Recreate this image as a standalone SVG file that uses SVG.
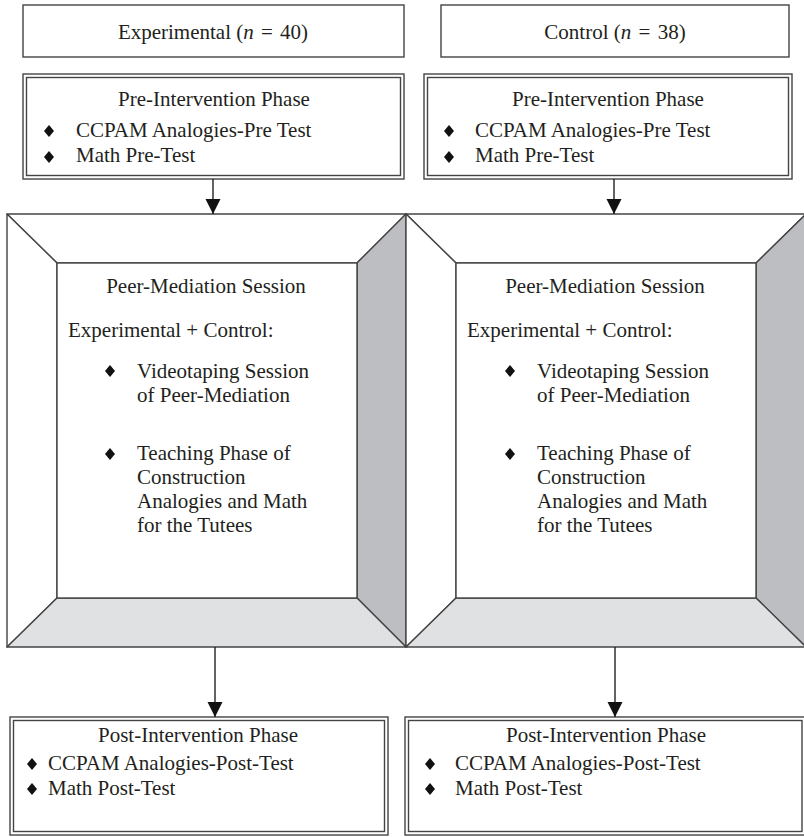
<svg xmlns="http://www.w3.org/2000/svg" width="804" height="837" viewBox="0 0 804 837">
<style>
text{font-family:"Liberation Serif","Times New Roman",serif;font-size:21px;fill:#231f20}
.c{text-anchor:middle}
.box{fill:#fff;stroke:#444;stroke-width:1.4}
.ln{fill:none;stroke:#444;stroke-width:1.4}
.dk{fill:#bdbec2;stroke:#444;stroke-width:1.4;stroke-linejoin:round}
.lt{fill:#e0e1e3;stroke:#444;stroke-width:1.4;stroke-linejoin:round}
.wh{fill:#fff;stroke:#444;stroke-width:1.4;stroke-linejoin:round}
.arr{stroke:#222;stroke-width:1.4;fill:none}
.dia{fill:#111}
</style>
<defs>
<marker id="ah" markerWidth="16" markerHeight="16" refX="15" refY="7.5" orient="auto" markerUnits="userSpaceOnUse">
<path d="M0,0 L15,7.5 L0,15 Z" fill="#111"/>
</marker>
<path id="d" d="M0,-6 L5,0 L0,6 L-5,0 Z" class="dia"/>
</defs>

<g id="exp-header">
<rect class="box" x="23" y="5" width="381" height="52"/>
<text class="c" x="213" y="39">Experimental (<tspan font-style="italic">n</tspan><tspan dx="2"> = </tspan><tspan dx="2">40)</tspan></text>
</g>
<g id="ctl-header">
<rect class="box" x="441" y="5" width="348" height="52"/>
<text class="c" x="615" y="39">Control (<tspan font-style="italic">n</tspan><tspan dx="2"> = </tspan><tspan dx="2">38)</tspan></text>
</g>

<g id="exp-pre">
<rect class="box" x="23" y="74" width="381" height="105"/>
<rect class="ln" x="26.5" y="77.5" width="374" height="98"/>
<text class="c" x="214" y="106">Pre-Intervention Phase</text>
<use href="#d" x="49" y="131"/>
<text x="76" y="137">CCPAM Analogies-Pre Test</text>
<use href="#d" x="49" y="157"/>
<text x="76" y="162">Math Pre-Test</text>
</g>
<g id="ctl-pre">
<rect class="box" x="424" y="74" width="368" height="105"/>
<rect class="ln" x="427.5" y="77.5" width="361" height="98"/>
<text class="c" x="608" y="106">Pre-Intervention Phase</text>
<use href="#d" x="449" y="131"/>
<text x="475" y="137">CCPAM Analogies-Pre Test</text>
<use href="#d" x="449" y="157"/>
<text x="475" y="162">Math Pre-Test</text>
</g>

<g id="exp-session">
<polygon class="wh" points="7,214 406,214 357,263 57,263"/>
<polygon class="wh" points="7,214 57,263 57,598 7,647"/>
<polygon class="dk" points="406,214 406,647 357,598 357,263"/>
<polygon class="lt" points="7,647 57,598 357,598 406,647"/>
<rect class="box" x="57" y="263" width="300" height="335"/>
<text class="c" x="206" y="293">Peer-Mediation Session</text>
<text x="68" y="337">Experimental + Control:</text>
<use href="#d" x="110" y="371"/>
<text x="137" y="378">Videotaping Session</text>
<text x="137" y="402">of Peer-Mediation</text>
<use href="#d" x="110" y="454"/>
<text x="137" y="460">Teaching Phase of</text>
<text x="137" y="484">Construction</text>
<text x="137" y="508">Analogies and Math</text>
<text x="137" y="532">for the Tutees</text>
</g>
<g id="ctl-session">
<polygon class="wh" points="406,214 806,214 756,263 456,263"/>
<polygon class="wh" points="406,214 456,263 456,598 406,647"/>
<polygon class="dk" points="806,214 806,647 756,598 756,263"/>
<polygon class="lt" points="406,647 456,598 756,598 806,647"/>
<rect class="box" x="456" y="263" width="300" height="335"/>
<text class="c" x="605" y="293">Peer-Mediation Session</text>
<text x="467" y="337">Experimental + Control:</text>
<use href="#d" x="510" y="371"/>
<text x="537" y="378">Videotaping Session</text>
<text x="537" y="402">of Peer-Mediation</text>
<use href="#d" x="510" y="454"/>
<text x="537" y="460">Teaching Phase of</text>
<text x="537" y="484">Construction</text>
<text x="537" y="508">Analogies and Math</text>
<text x="537" y="532">for the Tutees</text>
</g>

<g id="exp-post">
<rect class="box" x="10" y="717" width="378" height="118"/>
<rect class="ln" x="13.5" y="720.5" width="371" height="111"/>
<text class="c" x="198" y="742">Post-Intervention Phase</text>
<use href="#d" x="32" y="764"/>
<text x="48" y="770">CCPAM Analogies-Post-Test</text>
<use href="#d" x="32" y="789"/>
<text x="48" y="795">Math Post-Test</text>
</g>
<g id="ctl-post">
<rect class="box" x="405" y="717" width="402" height="118"/>
<rect class="ln" x="408.5" y="720.5" width="393.5" height="111"/>
<text class="c" x="606" y="742">Post-Intervention Phase</text>
<use href="#d" x="430" y="764"/>
<text x="455" y="770">CCPAM Analogies-Post-Test</text>
<use href="#d" x="430" y="789"/>
<text x="455" y="795">Math Post-Test</text>
</g>

<g id="connectors">
<line class="arr" x1="213" y1="179" x2="213" y2="214" marker-end="url(#ah)"/>
<line class="arr" x1="614" y1="179" x2="614" y2="214" marker-end="url(#ah)"/>
<line class="arr" x1="215" y1="647" x2="215" y2="717" marker-end="url(#ah)"/>
<line class="arr" x1="615" y1="647" x2="615" y2="717" marker-end="url(#ah)"/>
</g>
</svg>
